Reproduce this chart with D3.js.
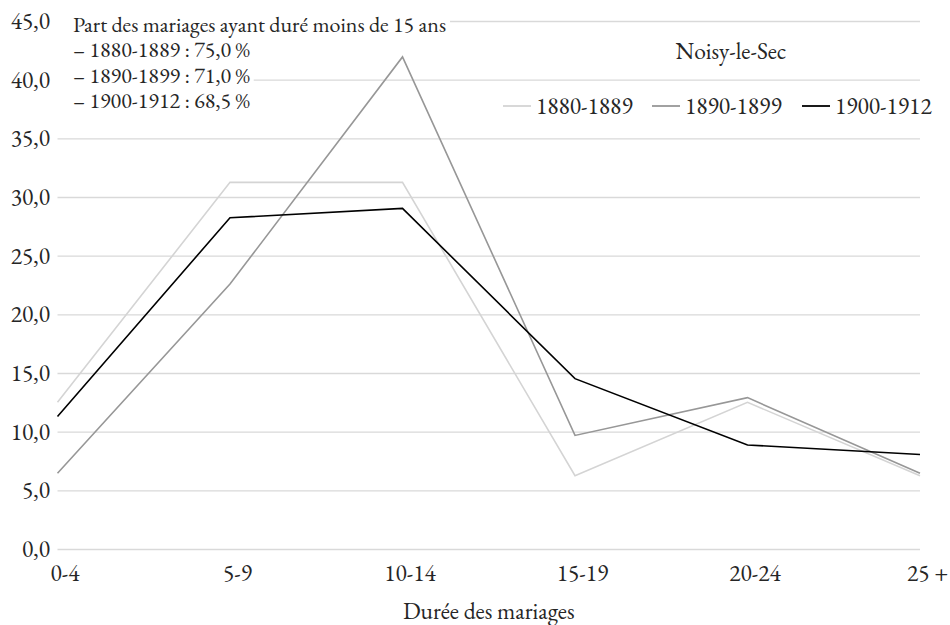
<!DOCTYPE html>
<meta charset="utf-8">
<script src="https://d3js.org/d3.v7.min.js"></script>
<style>
  body { margin: 0; background: #fff; }
</style>
<div id="my_dataviz"></div>
<script>

// data
var categories = ["0-4", "5-9", "10-14", "15-19", "20-24", "25 +"];
var seriesNames = ["1880-1889", "1890-1899", "1900-1912"];
var values1880 = [12.5, 31.25, 31.25, 6.25, 12.5, 6.25];
var values1890 = [6.45, 22.58, 41.94, 9.68, 12.9, 6.45];
var values1900 = [11.29, 28.23, 29.03, 14.52, 8.87, 8.06];
var yTicks = [0, 5, 10, 15, 20, 25, 30, 35, 40, 45];
var noteLines = [
  "Part des mariages ayant duré moins de 15 ans",
  "– 1880-1889 : 75,0 %",
  "– 1890-1899 : 71,0 %",
  "– 1900-1912 : 68,5 %"
];
var colors = ["#d4d4d4", "#979797", "#000000"];

var series = seriesNames.map(function(name, i) {
  return {name: name, values: [values1880, values1890, values1900][i], color: colors[i]};
});

var serif = "'EB Garamond', 'Liberation Serif', serif";

// dimensions
var margin = {top: 21, right: 30, bottom: 76, left: 57.5},
    width = 950 - margin.left - margin.right,
    height = 625 - margin.top - margin.bottom;

var svg = d3.select("#my_dataviz")
  .append("svg")
    .attr("width", 950)
    .attr("height", 625)
    .style("font-family", serif)
  .append("g")
    .attr("transform", "translate(" + margin.left + "," + margin.top + ")");

var x = d3.scalePoint()
  .domain(categories)
  .range([0, width]);

var y = d3.scaleLinear()
  .domain([0, 45])
  .range([height, 0]);

var fmt = function(d) { return d3.format(".1f")(d).replace(".", ","); };

// Y axis with gridlines
var yAxis = svg.append("g")
  .call(d3.axisLeft(y).tickValues(yTicks).tickSize(-width).tickPadding(7.5).tickFormat(fmt))
  .attr("font-family", null);
yAxis.select(".domain").remove();
yAxis.selectAll("line").attr("stroke", "#d9d9d9").attr("stroke-width", 1.3);
yAxis.selectAll("text").style("font-family", serif).style("font-size", "23.5px").attr("fill", "#262626");

// X axis
var xAxis = svg.append("g")
  .attr("transform", "translate(0," + height + ")")
  .call(d3.axisBottom(x).tickSize(0).tickPadding(15))
  .attr("font-family", null);
xAxis.select(".domain").remove();
xAxis.selectAll("text").style("font-family", serif).style("font-size", "23.5px").attr("fill", "#262626").attr("dx", 7);

// axis title
svg.append("text")
  .attr("x", width / 2)
  .attr("y", 598)
  .attr("text-anchor", "middle")
  .attr("fill", "#262626")
  .style("font-family", serif)
  .style("font-size", "23.5px")
  .text("Durée des mariages");

// lines
var line = d3.line()
  .x(function(d, i) { return x(categories[i]); })
  .y(function(d) { return y(d); });

svg.selectAll(".serie")
  .data(series)
  .enter().append("path")
    .attr("class", "serie")
    .attr("fill", "none")
    .attr("stroke", function(d) { return d.color; })
    .attr("stroke-width", 1.6)
    .attr("d", function(d) { return line(d.values); });

// note box top left
var note = svg.append("g").attr("transform", "translate(" + (73 - margin.left) + "," + (32 - margin.top) + ")");
var noteText = note.selectAll("text")
  .data(noteLines)
  .enter().append("text")
    .attr("x", 0)
    .attr("y", function(d, i) { return i * 25.3; })
    .attr("fill", "#262626")
    .style("font-family", serif)
    .style("font-size", "22px")
    .text(function(d) { return d; });
noteText.each(function() {
  var b = this.getBBox();
  note.insert("rect", "text")
    .attr("x", b.x - 16)
    .attr("y", b.y)
    .attr("width", b.width + 20)
    .attr("height", b.height)
    .attr("fill", "#fff");
});

// legend
svg.append("text")
  .attr("x", 731 - margin.left)
  .attr("y", 59 - margin.top)
  .attr("text-anchor", "middle")
  .attr("fill", "#262626")
  .style("font-family", serif)
  .style("font-size", "23.5px")
  .text("Noisy-le-Sec");

var legendX = [503, 652, 802];
var legend = svg.selectAll(".legend")
  .data(series)
  .enter().append("g")
    .attr("class", "legend")
    .attr("transform", function(d, i) { return "translate(" + (legendX[i] - margin.left) + "," + (106 - margin.top) + ")"; });
legend.append("line")
  .attr("x1", 0).attr("x2", 28)
  .attr("stroke", function(d) { return d.color; })
  .attr("stroke-width", 1.8);
legend.append("text")
  .attr("x", 33)
  .attr("dy", "0.32em")
  .attr("fill", "#262626")
  .style("font-family", serif)
  .style("font-size", "23.5px")
  .text(function(d) { return d.name; });

</script>
